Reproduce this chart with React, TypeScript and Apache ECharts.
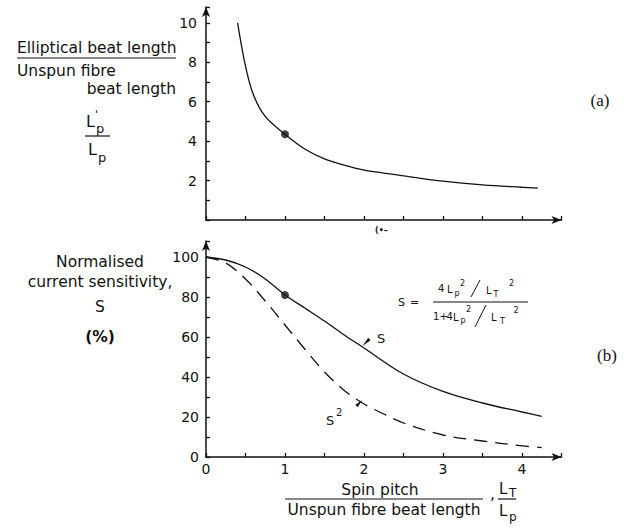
import React, { useEffect, useRef } from "react";
import * as echarts from "echarts";

// (a) elliptical beat length ratio vs spin pitch ratio
const topX = [0.4, 0.5, 0.6, 0.75, 1, 1.25, 1.5, 1.75, 2, 2.25, 2.5, 3, 3.5, 4, 4.2];
const topY = [10, 7.8, 6.35, 5.25, 4.35, 3.6, 3.1, 2.78, 2.53, 2.38, 2.24, 1.97, 1.78, 1.66, 1.62];
const topDot = [1, 4.35];

// (b) normalised current sensitivity S and S^2 (%)
const sX = [0, 0.25, 0.5, 0.75, 1, 1.25, 1.5, 1.75, 2, 2.5, 3, 3.5, 4, 4.25];
const sY = [100, 98.5, 95, 89, 81, 74.5, 68, 61, 54.5, 41.5, 32.8, 27, 22.5, 20.3];
const s2X = [0, 0.25, 0.5, 0.75, 1, 1.25, 1.5, 1.75, 2, 2.25, 2.5, 3, 3.5, 4, 4.25];
const s2Y = [100, 97, 89, 78, 66, 54, 42.5, 33.3, 26.5, 21.5, 17, 11, 8, 5.6, 4.7];
const sDot = [1, 81];

// tick labels
const topYTicks = [2, 4, 6, 8, 10];
const bottomYTicks = [0, 20, 40, 60, 80, 100];
const bottomXTicks = [0, 1, 2, 3, 4];

const pairs = (xs: number[], ys: number[]) => xs.map((x, i) => [x, ys[i]]);

const SANS = '"DejaVu Sans"';
const SERIF = '"Liberation Serif"';
const INK = "#111";

function T(text: string, x: number, y: number, size: number, align: string = "left", extra: any = {}) {
  return {
    type: "text",
    x,
    y,
    silent: true,
    style: {
      text,
      fontSize: size,
      fontFamily: SANS,
      fill: INK,
      align,
      verticalAlign: "middle",
      ...extra,
    },
  };
}

function L(x1: number, y1: number, x2: number, y2: number, w = 1.2) {
  return {
    type: "line",
    silent: true,
    shape: { x1, y1, x2, y2 },
    style: { stroke: INK, lineWidth: w },
  };
}

function wedge(tail: number[], tip: number[], half = 1.6) {
  const dx = tip[0] - tail[0];
  const dy = tip[1] - tail[1];
  const len = Math.hypot(dx, dy) || 1;
  const nx = -dy / len;
  const ny = dx / len;
  return {
    type: "polygon",
    silent: true,
    shape: {
      points: [
        [tip[0], tip[1]],
        [tail[0] + nx * half, tail[1] + ny * half],
        [tail[0] - nx * half, tail[1] - ny * half],
      ],
    },
    style: { fill: INK },
  };
}

export default function App() {
  const ref = useRef<HTMLDivElement>(null);

  useEffect(() => {
    const chart = echarts.init(ref.current!, null, { renderer: "svg" });

    const axisLine = {
      show: true,
      onZero: false,
      lineStyle: { color: INK, width: 1.5 },
      symbol: ["none", "arrow"],
      symbolSize: [6, 10],
    };
    const axisTick = { show: true, inside: true, length: 4, lineStyle: { color: INK, width: 1.3 } };
    const labelBase = { color: INK, fontSize: 14, fontFamily: SANS };

    chart.setOption({
      animation: false,
      backgroundColor: "#fff",
      grid: [
        { left: 206, top: 7, width: 355.5, height: 213 },
        { left: 206, top: 241, width: 355.5, height: 216 },
      ],
      xAxis: [
        {
          gridIndex: 0,
          type: "value",
          min: 0,
          max: 4.5,
          interval: 0.5,
          axisLine,
          axisTick,
          axisLabel: { show: false },
          splitLine: { show: false },
        },
        {
          gridIndex: 1,
          type: "value",
          min: 0,
          max: 4.5,
          interval: 0.5,
          axisLine,
          axisTick,
          axisLabel: {
            ...labelBase,
            margin: 5,
            showMinLabel: true,
            formatter: (v: number) => (bottomXTicks.includes(v) ? String(v) : ""),
          },
          splitLine: { show: false },
        },
      ],
      yAxis: [
        {
          gridIndex: 0,
          type: "value",
          min: 0,
          max: 10.8,
          interval: 1,
          axisLine,
          axisTick,
          axisLabel: {
            ...labelBase,
            margin: 9,
            formatter: (v: number) => (topYTicks.includes(v) ? String(v) : ""),
          },
          splitLine: { show: false },
        },
        {
          gridIndex: 1,
          type: "value",
          min: 0,
          max: 108,
          interval: 10,
          axisLine,
          axisTick,
          axisLabel: {
            ...labelBase,
            margin: 7,
            showMinLabel: true,
            formatter: (v: number) => (bottomYTicks.includes(v) ? String(v) : ""),
          },
          splitLine: { show: false },
        },
      ],
      series: [
        {
          type: "line",
          xAxisIndex: 0,
          yAxisIndex: 0,
          data: pairs(topX, topY),
          smooth: 0.35,
          showSymbol: false,
          lineStyle: { color: INK, width: 1.3 },
        },
        {
          type: "scatter",
          xAxisIndex: 0,
          yAxisIndex: 0,
          data: [topDot],
          symbolSize: 8,
          itemStyle: { color: INK },
        },
        {
          type: "line",
          xAxisIndex: 1,
          yAxisIndex: 1,
          data: pairs(sX, sY),
          smooth: 0.35,
          showSymbol: false,
          lineStyle: { color: INK, width: 1.3 },
        },
        {
          type: "line",
          xAxisIndex: 1,
          yAxisIndex: 1,
          data: pairs(s2X, s2Y),
          smooth: 0.35,
          showSymbol: false,
          lineStyle: { color: INK, width: 1.3, type: [13, 8] },
        },
        {
          type: "scatter",
          xAxisIndex: 1,
          yAxisIndex: 1,
          data: [sDot],
          symbolSize: 8,
          itemStyle: { color: INK },
        },
      ],
    });

    const px = (x: number, y: number) =>
      chart.convertToPixel({ xAxisIndex: 1, yAxisIndex: 1 }, [x, y]) as number[];
    const sTip = px(1.98, 55.5);
    const s2Tip = px(1.98, 28.5);

    const graphic: any[] = [
      // (a) y label
      T("Elliptical beat length", 17, 48, 15.5),
      L(17, 58, 176, 58),
      T("Unspun fibre", 17, 71, 15.5),
      T("beat length", 176, 89, 15.5, "right"),
      T("L", 86, 121, 16),
      T("'", 95, 114, 11),
      T("p", 96, 128, 13),
      L(85, 136, 110, 136),
      T("L", 88, 149, 16),
      T("p", 98, 157, 13),
      // (b) y label
      T("Normalised", 100, 262, 15.5, "center"),
      T("current sensitivity,", 100, 282, 15.5, "center"),
      T("S", 100, 307, 15.5, "center"),
      T("(%)", 100, 337, 15.5, "center", { fontWeight: "bold" }),
      // x label
      T("Spin pitch", 380, 490, 15.5, "center"),
      L(285, 499, 483, 499),
      T("Unspun fibre beat length", 384, 510, 15.5, "center"),
      T(",", 490, 494, 15.5),
      T("L", 499, 489, 15),
      T("T", 509, 493, 12),
      L(498, 499, 516, 499),
      T("L", 499, 511, 15),
      T("p", 509, 517, 12),
      // formula
      T("S", 398, 302, 11),
      T("=", 410, 302, 11),
      T("4", 438, 288, 10),
      T("L", 447, 289, 10),
      T("p", 454.5, 293, 8),
      T("2", 460, 283, 8),
      L(471, 297, 480, 280, 1),
      T("L", 486, 290, 10),
      T("T", 493.5, 294, 8),
      T("2", 509, 283, 8),
      L(433, 302, 528, 302, 1),
      T("1", 433, 316, 10),
      T("+", 439.5, 316, 10),
      T("4", 446.5, 316, 10),
      T("L", 453, 317, 10),
      T("p", 460.5, 320.5, 8),
      T("2", 466, 309, 8),
      L(475, 327, 486, 305, 1),
      T("L", 491, 317, 10),
      T("T", 500, 321, 8),
      T("2", 513.5, 310, 8),
      // curve annotations
      T("S", 377, 338, 13),
      wedge([sTip[0] + 7, sTip[1] - 7], [sTip[0], sTip[1]]),
      T("S", 326, 420, 13),
      T("2", 336, 412, 10),
      wedge([s2Tip[0] - 6, s2Tip[1] + 6], [s2Tip[0], s2Tip[1]]),
      // panel tags
      T("(a)", 600, 100, 17, "center", { fontFamily: SERIF }),
      T("(b)", 607, 355, 17, "center", { fontFamily: SERIF }),
      T("(•–", 375, 230, 8, "left", { fontWeight: "bold" }),
    ];

    chart.setOption({ graphic });

    return () => chart.dispose();
  }, []);

  return (
    <div
      ref={ref}
      style={{ position: "fixed", left: 0, top: 0, width: 628, height: 529, background: "#fff" }}
    />
  );
}
